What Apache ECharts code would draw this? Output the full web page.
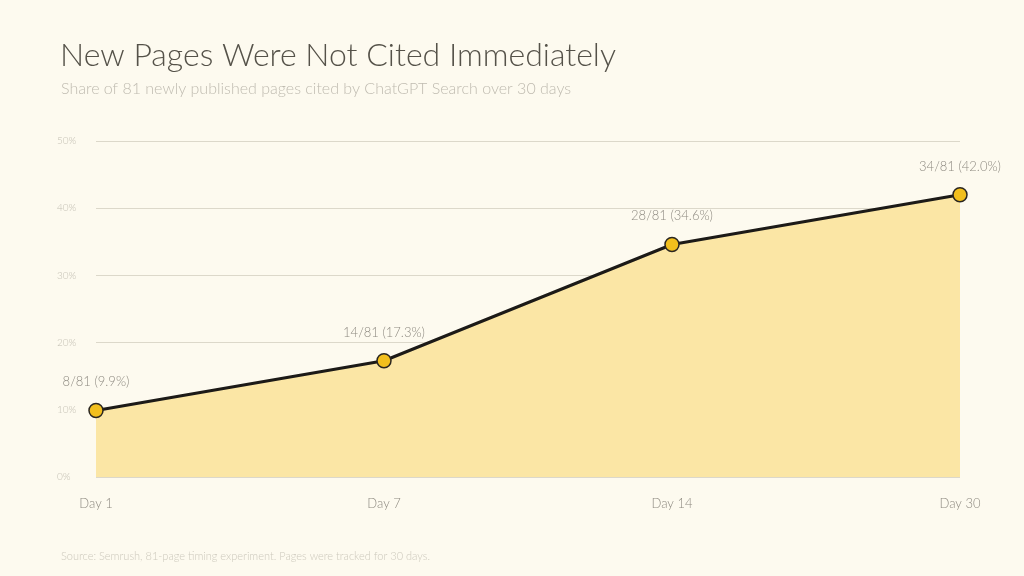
<!DOCTYPE html>
<html>
<head>
<meta charset="utf-8">
<script src="https://cdn.jsdelivr.net/npm/echarts@6/dist/echarts.min.js"></script>
<style>
  html, body { margin: 0; padding: 0; background: #fdfaef; }
  #chart { width: 1024px; height: 576px; }
</style>
</head>
<body>
<div id="chart"></div>
<script>
// data
var days = ["Day 1", "Day 7", "Day 14", "Day 30"];
var citedShare = [9.9, 17.3, 34.6, 42.0];
var citedCount = [8, 14, 28, 34];
var totalPages = 81;

var FONT = "Lato, 'Open Sans', sans-serif";

var chart = echarts.init(document.getElementById("chart"));

chart.setOption({
  backgroundColor: "#fdfaef",
  textStyle: { fontFamily: FONT },
  title: [
    {
      text: "New Pages Were Not Cited Immediately",
      left: 55, top: 35,
      textStyle: { fontFamily: FONT, fontWeight: 300, fontSize: 32, color: "#555249" }
    },
    {
      text: "Share of 81 newly published pages cited by ChatGPT Search over 30 days",
      left: 56, top: 76,
      textStyle: { fontFamily: FONT, fontWeight: 300, fontSize: 16, color: "#bfbbb0" }
    },
    {
      text: "Source: Semrush, 81-page timing experiment. Pages were tracked for 30 days.",
      left: 56, top: 546,
      textStyle: { fontFamily: FONT, fontWeight: 300, fontSize: 11, color: "#cdc9bd" }
    }
  ],
  grid: { left: 96, right: 64, top: 141, bottom: 99, containLabel: false },
  xAxis: {
    type: "category",
    data: days,
    boundaryGap: false,
    axisLine: { show: false },
    axisTick: { show: false },
    axisLabel: { margin: 20, fontSize: 13, fontWeight: 300, color: "#8f8b82", fontFamily: FONT }
  },
  yAxis: {
    type: "value",
    min: 0, max: 50, interval: 10,
    axisLine: { show: false },
    axisTick: { show: false },
    splitLine: { lineStyle: { color: "#dcd8ca", width: 1.2 } },
    axisLabel: {
      formatter: "{value}%",
      align: "left", margin: 39,
      fontSize: 10, fontWeight: 300, color: "#c4c0b4", fontFamily: FONT
    }
  },
  series: [
    {
      type: "line",
      data: citedShare,
      symbol: "circle",
      symbolSize: 14,
      lineStyle: { color: "#1c1a17", width: 3 },
      itemStyle: { color: "#f2bf1d", borderColor: "#2a2620", borderWidth: 1.5 },
      areaStyle: { color: "#fbe6a5", opacity: 1 },
      label: {
        show: true,
        position: "top",
        distance: 14,
        fontSize: 13, fontWeight: 300, color: "#8f8b82", fontFamily: FONT,
        formatter: function (p) {
          return citedCount[p.dataIndex] + "/" + totalPages + " (" + p.value.toFixed(1) + "%)";
        }
      },
      z: 3
    }
  ],
  animation: false
});
</script>
</body>
</html>
